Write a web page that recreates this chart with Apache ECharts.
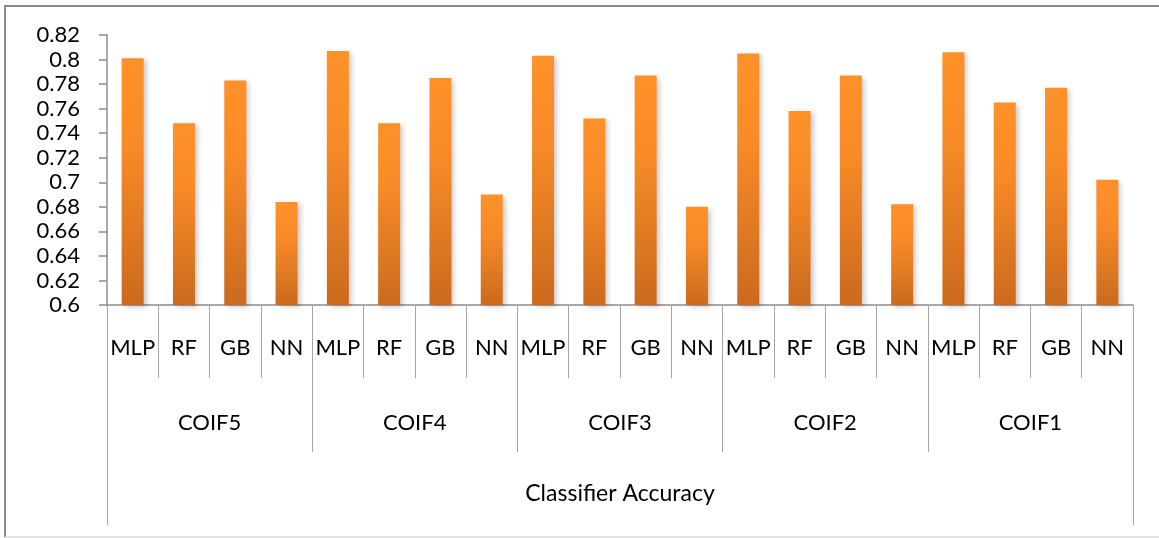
<!DOCTYPE html>
<html>
<head>
<meta charset="utf-8">
<script src="https://cdn.jsdelivr.net/npm/echarts@6/dist/echarts.min.js"></script>
<style>
  html, body { margin: 0; padding: 0; background: #fff; }
  #chart { width: 1159px; height: 538px; }
</style>
</head>
<body>
<div id="chart"></div>
<script>
// Classifier accuracy per wavelet (coiflet) feature set
const classifiers = ['MLP', 'RF', 'GB', 'NN'];
const waveletGroups = ['COIF5', 'COIF4', 'COIF3', 'COIF2', 'COIF1'];
const outerLabel = ['Classifier Accuracy'];

const accCOIF5 = [0.801, 0.748, 0.783, 0.684];
const accCOIF4 = [0.807, 0.748, 0.785, 0.690];
const accCOIF3 = [0.803, 0.752, 0.787, 0.680];
const accCOIF2 = [0.805, 0.758, 0.787, 0.682];
const accCOIF1 = [0.806, 0.765, 0.777, 0.702];

const yMin = 0.6, yMax = 0.82, yStep = 0.02;

// flatten into one category per classifier/wavelet pair
const leafCategories = [];
waveletGroups.forEach(() => classifiers.forEach(c => leafCategories.push(c)));
const values = [].concat(accCOIF5, accCOIF4, accCOIF3, accCOIF2, accCOIF1);

const FONT = 'Lato';
const TEXT = '#000';
const AXIS_GRAY = '#8c8c8c';

const chart = echarts.init(document.getElementById('chart'));

chart.setOption({
  animation: false,
  backgroundColor: '#fff',
  textStyle: { fontFamily: FONT },
  graphic: [
    {
      type: 'polyline',
      shape: { points: [[5, 537], [5, 6], [1159, 6]] },
      style: { stroke: AXIS_GRAY, lineWidth: 2, fill: null },
      silent: true
    },
    {
      type: 'line',
      shape: { x1: 5, y1: 537, x2: 1159, y2: 537 },
      style: { stroke: '#d9d9d9', lineWidth: 1.5 },
      silent: true
    }
  ],
  grid: { left: 107, right: 26, top: 35, bottom: 233, containLabel: false },
  xAxis: [
    {
      type: 'category',
      data: leafCategories,
      boundaryGap: true,
      axisLine: { show: true, lineStyle: { color: AXIS_GRAY, width: 1.5 } },
      axisTick: { show: true, interval: 0, length: 73, lineStyle: { color: '#a6a6a6', width: 1 } },
      axisLabel: { interval: 0, margin: 32, fontSize: 22, color: TEXT, fontFamily: FONT }
    },
    {
      type: 'category',
      data: waveletGroups,
      position: 'bottom',
      boundaryGap: true,
      axisLine: { show: false },
      axisTick: { show: true, interval: 0, length: 147, lineStyle: { color: '#a6a6a6', width: 1 } },
      axisLabel: { interval: 0, margin: 107, fontSize: 22, color: TEXT, fontFamily: FONT }
    },
    {
      type: 'category',
      data: outerLabel,
      position: 'bottom',
      boundaryGap: true,
      axisLine: { show: false },
      axisTick: { show: true, interval: 0, length: 220, lineStyle: { color: '#a6a6a6', width: 1 } },
      axisLabel: { interval: 0, margin: 177, fontSize: 23, color: TEXT, fontFamily: FONT }
    }
  ],
  yAxis: {
    type: 'value',
    min: yMin,
    max: yMax,
    interval: yStep,
    splitLine: { show: false },
    axisLine: { show: true, lineStyle: { color: AXIS_GRAY, width: 1.5 } },
    axisTick: { show: true, length: 8, lineStyle: { color: AXIS_GRAY, width: 1.5 } },
    axisLabel: {
      margin: 27,
      fontSize: 22,
      color: TEXT,
      fontFamily: FONT,
      formatter: v => String(parseFloat(v.toFixed(2)))
    }
  },
  series: [
    {
      type: 'bar',
      xAxisIndex: 0,
      data: values,
      barWidth: 22,
      itemStyle: {
        color: new echarts.graphic.LinearGradient(0, 0, 0, 1, [
          { offset: 0, color: '#FF9129' },
          { offset: 0.35, color: '#F88B27' },
          { offset: 1, color: '#CB6A1E' }
        ]),
        shadowColor: 'rgba(0,0,0,0.22)',
        shadowBlur: 5,
        shadowOffsetX: 3,
        shadowOffsetY: 2
      }
    }
  ]
});
</script>
</body>
</html>
